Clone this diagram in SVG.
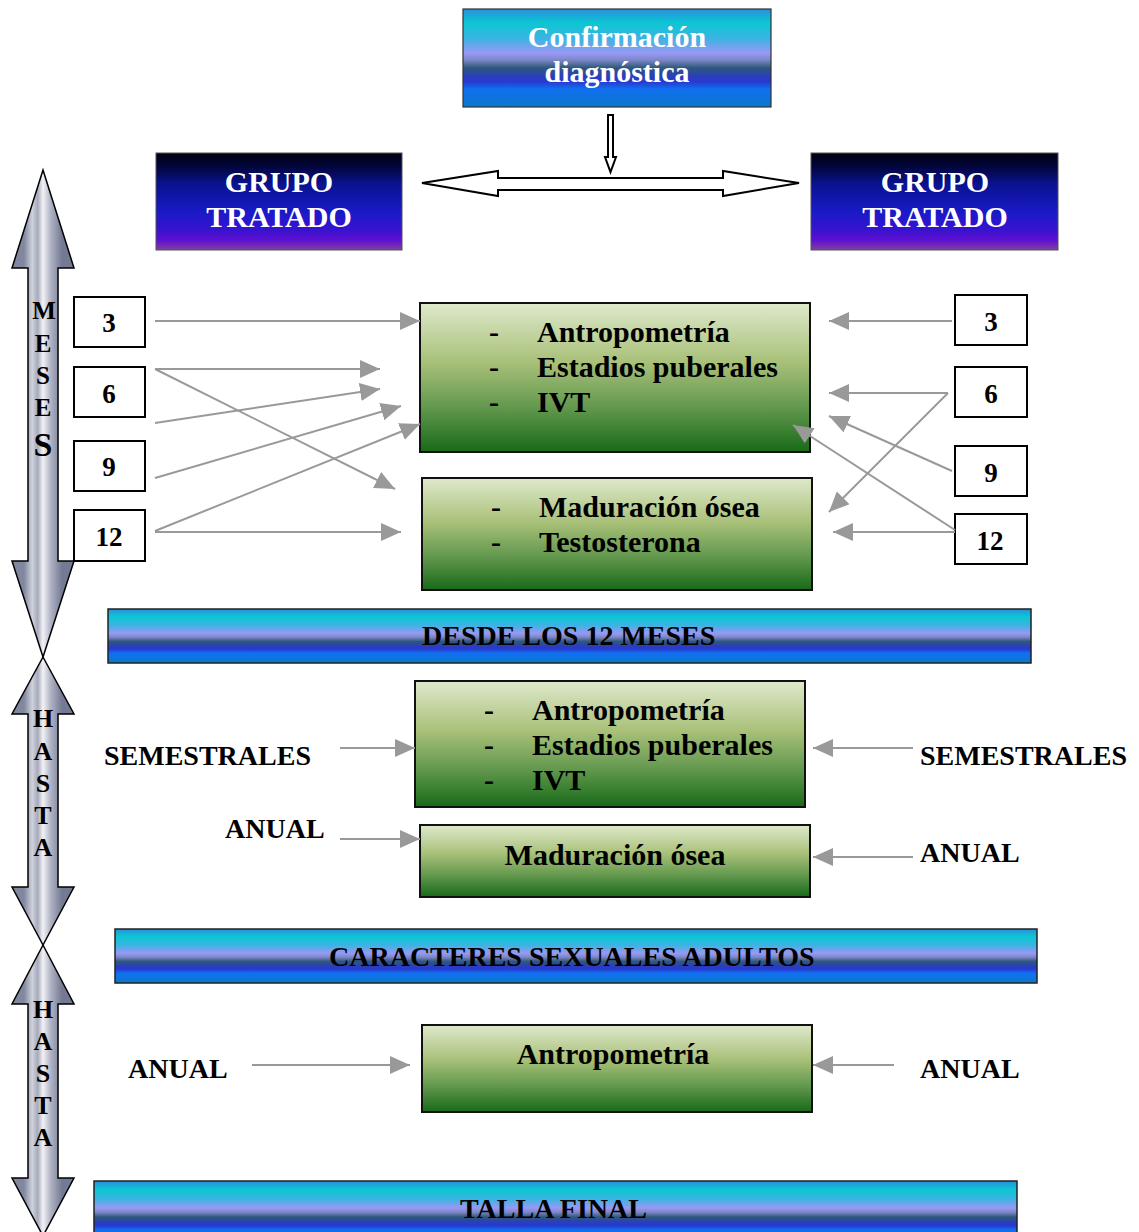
<svg xmlns="http://www.w3.org/2000/svg" width="1139" height="1232" viewBox="0 0 1139 1232">
<style>
text{font-family:"Liberation Serif","Times New Roman",serif;font-weight:bold}
.w{fill:#fff}
.k{fill:#000}
.num{font-size:27px;text-anchor:middle}
.lab{font-size:28px}
.g30{font-size:30px}
.band{stroke:#222;stroke-width:1.5}
.green{fill:url(#gGreen);stroke:#111;stroke-width:2}
.nbox{fill:#fff;stroke:#000;stroke-width:2}
.con line{stroke:#999;stroke-width:2;marker-end:url(#ah)}
.silver{fill:url(#gSilver);stroke:#000;stroke-width:1.5}
.hollow{fill:#fff;stroke:#000;stroke-width:2}
.vl{font-size:25px;text-anchor:middle}
</style>
<defs>
<linearGradient id="gBand" x1="0" y1="0" x2="0" y2="1">
<stop offset="0" stop-color="#2a8fe0"/>
<stop offset="0.14" stop-color="#0cc6d2"/>
<stop offset="0.3" stop-color="#3ab4e2"/>
<stop offset="0.45" stop-color="#9a98f4"/>
<stop offset="0.52" stop-color="#7c88c8"/>
<stop offset="0.6" stop-color="#30587a"/>
<stop offset="0.68" stop-color="#2a40b8"/>
<stop offset="0.74" stop-color="#2838d0"/>
<stop offset="0.82" stop-color="#1070f0"/>
<stop offset="1" stop-color="#0a78c8"/>
</linearGradient>
<linearGradient id="gNavy" x1="0" y1="0" x2="0" y2="1">
<stop offset="0" stop-color="#000010"/>
<stop offset="0.15" stop-color="#030640"/>
<stop offset="0.32" stop-color="#0a1290"/>
<stop offset="0.62" stop-color="#1a1ac8"/>
<stop offset="0.8" stop-color="#3a12d0"/>
<stop offset="0.9" stop-color="#6010d0"/>
<stop offset="1" stop-color="#8040a0"/>
</linearGradient>
<linearGradient id="gGreen" x1="0" y1="0" x2="0" y2="1">
<stop offset="0" stop-color="#dfe9cc"/>
<stop offset="0.4" stop-color="#a8c078"/>
<stop offset="0.7" stop-color="#62984e"/>
<stop offset="1" stop-color="#186a18"/>
</linearGradient>
<linearGradient id="gSilver" gradientUnits="userSpaceOnUse" x1="24" y1="0" x2="62" y2="0">
<stop offset="0" stop-color="#80879f"/>
<stop offset="0.22" stop-color="#cfd2dc"/>
<stop offset="0.36" stop-color="#a6aabb"/>
<stop offset="0.5" stop-color="#f2f2f6"/>
<stop offset="0.7" stop-color="#b0b4c4"/>
<stop offset="1" stop-color="#747a94"/>
</linearGradient>
<marker id="ah" viewBox="0 0 20 18" refX="20" refY="9" markerWidth="20" markerHeight="18" markerUnits="userSpaceOnUse" orient="auto">
<path d="M0,0 L20,9 L0,18 z" fill="#999"/>
</marker>
</defs>

<rect width="1139" height="1232" fill="#fff"/>

<!-- time axis arrows -->
<g id="axis-meses">
<polygon class="silver" points="43,170 74,268 58,268 58,561 74,561 43,657 12,561 28,561 28,268 12,268"/>
<text class="vl" x="44" y="319">M</text>
<text class="vl" x="43" y="352">E</text>
<text class="vl" x="43" y="384">S</text>
<text class="vl" x="43" y="416">E</text>
<text class="vl" x="43" y="456" style="font-size:34px">S</text>
</g>
<g id="axis-hasta1">
<polygon class="silver" points="43,657 74,714 58,714 58,887 74,887 43,945 12,887 28,887 28,714 12,714"/>
<text class="vl" x="43" y="727" style="font-size:26px">H</text>
<text class="vl" x="43" y="760" style="font-size:26px">A</text>
<text class="vl" x="43" y="792" style="font-size:26px">S</text>
<text class="vl" x="43" y="824" style="font-size:26px">T</text>
<text class="vl" x="43" y="856" style="font-size:26px">A</text>
</g>
<g id="axis-hasta2">
<polygon class="silver" points="43,945 74,1004 58,1004 58,1178 74,1178 43,1236 12,1178 28,1178 28,1004 12,1004"/>
<text class="vl" x="43" y="1018" style="font-size:26px">H</text>
<text class="vl" x="43" y="1050" style="font-size:26px">A</text>
<text class="vl" x="43" y="1082" style="font-size:26px">S</text>
<text class="vl" x="43" y="1114" style="font-size:26px">T</text>
<text class="vl" x="43" y="1146" style="font-size:26px">A</text>
</g>

<!-- top -->
<g id="confirmacion">
<rect x="463" y="9" width="308" height="98" fill="url(#gBand)" stroke="#333" stroke-width="1.2"/>
<text class="w g30" x="617" y="47" text-anchor="middle">Confirmación</text>
<text class="w g30" x="617" y="82" text-anchor="middle">diagnóstica</text>
</g>
<g id="grupo-izq">
<rect x="156" y="153" width="246" height="97" fill="url(#gNavy)" stroke="#555" stroke-width="1"/>
<text class="w g30" x="279" y="192" text-anchor="middle">GRUPO</text>
<text class="w g30" x="279" y="227" text-anchor="middle">TRATADO</text>
</g>
<g id="grupo-der">
<rect x="811" y="153" width="247" height="97" fill="url(#gNavy)" stroke="#555" stroke-width="1"/>
<text class="w g30" x="935" y="192" text-anchor="middle">GRUPO</text>
<text class="w g30" x="935" y="227" text-anchor="middle">TRATADO</text>
</g>

<!-- number boxes left -->
<g id="l3"><rect class="nbox" x="74" y="297" width="71" height="50"/><text class="num" x="109" y="332">3</text></g>
<g id="l6"><rect class="nbox" x="74" y="367" width="71" height="50"/><text class="num" x="109" y="403">6</text></g>
<g id="l9"><rect class="nbox" x="74" y="441" width="71" height="50"/><text class="num" x="109" y="476">9</text></g>
<g id="l12"><rect class="nbox" x="74" y="510" width="71" height="51"/><text class="num" x="109" y="546">12</text></g>
<!-- number boxes right -->
<g id="r3"><rect class="nbox" x="955" y="295" width="72" height="50"/><text class="num" x="991" y="331">3</text></g>
<g id="r6"><rect class="nbox" x="955" y="367" width="72" height="50"/><text class="num" x="991" y="403">6</text></g>
<g id="r9"><rect class="nbox" x="955" y="446" width="72" height="50"/><text class="num" x="991" y="482">9</text></g>
<g id="r12"><rect class="nbox" x="955" y="514" width="72" height="50"/><text class="num" x="990" y="550">12</text></g>

<!-- green boxes -->
<g id="box1">
<rect class="green" x="420" y="303" width="390" height="149"/>
<text class="k g30" x="489" y="342">-</text><text class="k g30" x="537" y="342">Antropometría</text>
<text class="k g30" x="489" y="377">-</text><text class="k g30" x="537" y="377">Estadios puberales</text>
<text class="k g30" x="489" y="412">-</text><text class="k g30" x="537" y="412">IVT</text>
</g>
<g id="box2">
<rect class="green" x="422" y="478" width="390" height="112"/>
<text class="k g30" x="491" y="517">-</text><text class="k g30" x="539" y="517">Maduración ósea</text>
<text class="k g30" x="491" y="552">-</text><text class="k g30" x="539" y="552">Testosterona</text>
</g>

<g id="band-desde">
<rect class="band" x="108" y="609" width="923" height="54" fill="url(#gBand)"/>
<text class="k lab" x="422" y="645">DESDE LOS 12 MESES</text>
</g>

<g id="box3">
<rect class="green" x="415" y="681" width="390" height="126"/>
<text class="k g30" x="484" y="720">-</text><text class="k g30" x="532" y="720">Antropometría</text>
<text class="k g30" x="484" y="755">-</text><text class="k g30" x="532" y="755">Estadios puberales</text>
<text class="k g30" x="484" y="790">-</text><text class="k g30" x="532" y="790">IVT</text>
</g>
<g id="box4">
<rect class="green" x="420" y="825" width="390" height="72"/>
<text class="k g30" x="615" y="865" text-anchor="middle">Maduración ósea</text>
</g>

<g id="band-caracteres">
<rect class="band" x="115" y="929" width="922" height="54" fill="url(#gBand)"/>
<text class="k lab" x="329" y="966">CARACTERES SEXUALES ADULTOS</text>
</g>

<g id="box5">
<rect class="green" x="422" y="1025" width="390" height="87"/>
<text class="k g30" x="613" y="1064" text-anchor="middle">Antropometría</text>
</g>

<g id="band-talla">
<rect class="band" x="94" y="1181" width="923" height="60" fill="url(#gBand)"/>
<text class="k lab" x="460" y="1218">TALLA FINAL</text>
</g>

<!-- frequency labels -->
<g id="labels">
<text class="k lab" x="104" y="765">SEMESTRALES</text>
<text class="k lab" x="225" y="838">ANUAL</text>
<text class="k lab" x="920" y="765">SEMESTRALES</text>
<text class="k lab" x="920" y="862">ANUAL</text>
<text class="k lab" x="128" y="1078">ANUAL</text>
<text class="k lab" x="920" y="1078">ANUAL</text>
</g>

<!-- connectors -->
<g id="connectors">
<polygon class="hollow" points="608,115 613,115 613,157 616,157 610.5,172 605,157 608,157"/>
<polygon class="hollow" points="422,183 498,171 498,178 723,178 723,171 799,183 723,196 723,190 498,190 498,196"/>
<g class="con">
<line x1="155" y1="321" x2="420" y2="321"/>
<line x1="155" y1="369" x2="380" y2="369"/>
<line x1="155" y1="369" x2="395" y2="489"/>
<line x1="155" y1="423" x2="380" y2="389"/>
<line x1="155" y1="478" x2="401" y2="406"/>
<line x1="155" y1="531" x2="420" y2="424"/>
<line x1="155" y1="532" x2="401" y2="532"/>
<line x1="952" y1="321" x2="829" y2="321"/>
<line x1="948" y1="393" x2="829" y2="393"/>
<line x1="948" y1="393" x2="829" y2="512"/>
<line x1="952" y1="471" x2="829" y2="416"/>
<line x1="955" y1="530" x2="793" y2="425"/>
<line x1="955" y1="532" x2="833" y2="532"/>
<line x1="340" y1="748" x2="415" y2="748"/>
<line x1="340" y1="839" x2="420" y2="839"/>
<line x1="913" y1="748" x2="813" y2="748"/>
<line x1="913" y1="857" x2="813" y2="857"/>
<line x1="252" y1="1065" x2="410" y2="1065"/>
<line x1="894" y1="1065" x2="813" y2="1065"/>
</g>
</g>
</svg>
